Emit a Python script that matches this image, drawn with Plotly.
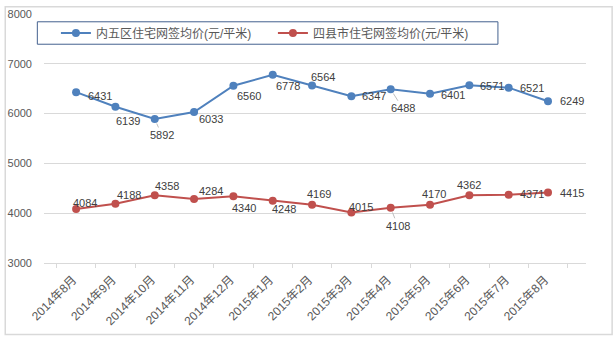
import plotly.graph_objects as go

months = ["2014年8月", "2014年9月", "2014年10月", "2014年11月", "2014年12月",
          "2015年1月", "2015年2月", "2015年3月", "2015年4月", "2015年5月",
          "2015年6月", "2015年7月", "2015年8月"]
inner_name = "内五区住宅网签均价(元/平米)"
outer_name = "四县市住宅网签均价(元/平米)"
inner_vals = [6431, 6139, 5892, 6033, 6560, 6778, 6564, 6347, 6488, 6401, 6571, 6521, 6249]
outer_vals = [4084, 4188, 4358, 4284, 4340, 4248, 4169, 4015, 4108, 4170, 4362, 4371, 4415]

# label offsets in pixels (dx, dy with dy positive downward) and leader flags
inner_off = [(24, 4), (13, 14), (7, 16), (17, 7), (16, 10), (15, 11), (11, -9),
             (23, 0), (12, 19), (23, 1), (23, 1), (23, 0), (24, 0)]
outer_off = [(9, -6), (14, -9), (12, -9), (17, -8), (11, 12), (11, 8), (7, -11),
             (10, -5), (7, 18), (4, -11), (0, -10), (23, -1), (24, 0)]
inner_leader = [2, 8]
outer_leader = [8]

BLUE = "#4F81BD"
RED = "#C0504D"
GRID = "#D9D9D9"
TXT = "#595959"
FONT = "Liberation Sans, Noto Sans CJK SC, sans-serif"

fig = go.Figure()
fig.add_trace(go.Scatter(x=months, y=inner_vals, name=inner_name, mode="lines+markers",
                         line=dict(color=BLUE, width=2), marker=dict(color=BLUE, size=8)))
fig.add_trace(go.Scatter(x=months, y=outer_vals, name=outer_name, mode="lines+markers",
                         line=dict(color=RED, width=2), marker=dict(color=RED, size=8)))

annotations = []
for vals, offs, leaders in [(inner_vals, inner_off, inner_leader), (outer_vals, outer_off, outer_leader)]:
    for i, (m, v) in enumerate(zip(months, vals)):
        dx, dy = offs[i]
        lead = i in leaders
        annotations.append(dict(
            x=m, y=v, xref="x", yref="y", text=str(v), showarrow=True,
            ax=dx, ay=dy, arrowhead=0, arrowwidth=1 if lead else 0.1,
            arrowcolor="#BFBFBF" if lead else "rgba(0,0,0,0)", standoff=5,
            font=dict(family=FONT, size=11, color="#404040")))

fig.update_layout(
    width=613, height=338,
    margin=dict(l=40, r=27, t=8, b=75),
    paper_bgcolor="white", plot_bgcolor="white",
    font=dict(family=FONT, size=11, color=TXT),
    showlegend=True,
    legend=dict(orientation="h", x=0.022, y=0.9236, xanchor="left", yanchor="middle",
                bgcolor="rgba(0,0,0,0)", borderwidth=0, entrywidth=172,
                font=dict(family=FONT, size=12, color=TXT), itemwidth=30),
    annotations=annotations,
    shapes=[
        dict(type="rect", xref="paper", yref="paper", x0=-0.0715, x1=1.0482,
             y0=-0.2867, y1=1.0294, line=dict(color=GRID, width=1.5), layer="below"),
        dict(type="rect", xref="paper", yref="paper", x0=-0.0123, x1=0.8375,
             y0=0.8786, y1=0.9687, line=dict(color="#44618F", width=1),
             fillcolor="white", layer="above"),
    ],
)
fig.update_xaxes(type="category", showgrid=False, showline=True, linecolor=GRID, linewidth=1,
                 ticks="outside", tickson="boundaries", ticklen=4, tickcolor=GRID,
                 tickangle=-45, ticklabelstandoff=4, ticklabelshift=-3,
                 tickfont=dict(family=FONT, size=12, color=TXT))
fig.update_yaxes(range=[3000, 8000], dtick=1000, showgrid=True, gridcolor=GRID, gridwidth=1,
                 showline=False, zeroline=False, ticks="", ticklabelstandoff=11,
                 tickfont=dict(family=FONT, size=11, color=TXT))

fig.write_html("out.html")
